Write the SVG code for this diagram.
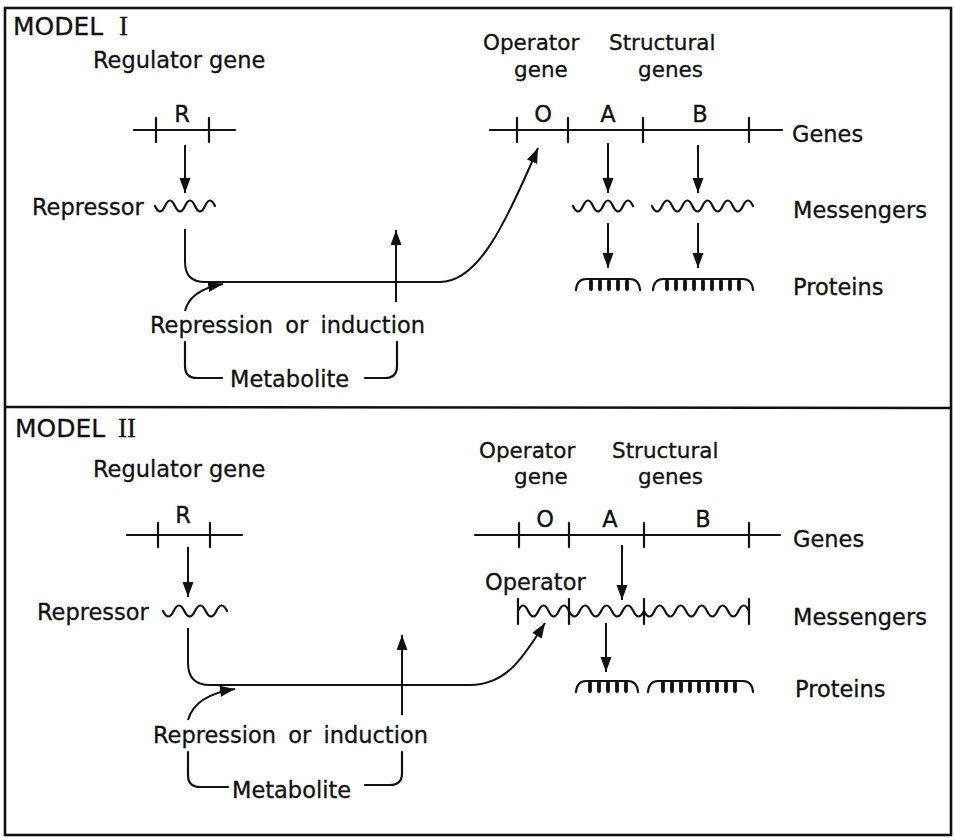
<svg xmlns="http://www.w3.org/2000/svg" width="954" height="840" viewBox="0 0 954 840">
<style>
text{font-family:"DejaVu Sans","Liberation Sans",sans-serif;font-size:22.5px;fill:#111;stroke:#111;stroke-width:0.3}
.title{font-size:25px}
.hd{font-size:21.5px}
.rn{font-family:"Liberation Serif",serif;font-size:27px}
.mid{text-anchor:middle}
.ln{fill:none;stroke:#111;stroke-width:2.2;stroke-linecap:round;stroke-linejoin:round}
.wave{fill:none;stroke:#111;stroke-width:2.2;stroke-linecap:round}
.comb{fill:none;stroke:#111;stroke-width:3.8;stroke-linecap:round}
.arr{fill:none;stroke:#111;stroke-width:2;marker-end:url(#ah)}
</style>
<defs>
<marker id="ah" markerUnits="userSpaceOnUse" markerWidth="16" markerHeight="12" refX="15" refY="5.5" orient="auto">
<path d="M0,0 L15,5.5 L0,11 z" fill="#111"/>
</marker>
</defs>
<rect x="0" y="0" width="954" height="840" fill="#fff"/>
<g id="frame">
<rect x="5" y="8" width="946" height="827" fill="none" stroke="#111" stroke-width="2.6"/>
<line x1="5" y1="407" x2="951" y2="408" stroke="#111" stroke-width="2.6"/>
</g>

<!-- MODEL I -->
<g id="m1-title"><text class="title" x="13" y="35">MODEL <tspan class="rn" x="119">I</tspan></text></g>
<g id="m1-regulator">
<text x="93" y="68">Regulator gene</text>
<text class="mid" x="182" y="122">R</text>
<path class="ln" d="M134,130 L235,130 M156,118 L156,142 M209,118 L209,142"/>
</g>
<g id="m1-repressor">
<text x="32" y="215">Repressor</text>
<path class="wave" d="M155,206 q5,11 10,0 t10,0 t10,0 t10,0 t10,0 t10,0"/>
</g>
<g id="m1-operon">
<text class="hd" x="483" y="50">Operator</text>
<text class="hd" x="514" y="77">gene</text>
<text class="hd" x="609" y="50">Structural</text>
<text class="hd" x="638" y="77">genes</text>
<text class="mid" x="543" y="122">O</text>
<text class="mid" x="608" y="122">A</text>
<text class="mid" x="700" y="122">B</text>
<path class="ln" d="M490,130 L782,130 M517,118 L517,142 M568,118 L568,142 M643,118 L643,142 M749,118 L749,142"/>
<text x="792" y="142">Genes</text>
</g>
<g id="m1-messengers">
<path class="wave" d="M573,206 q5,11 10,0 t10,0 t10,0 t10,0 t10,0 t10,0"/>
<path class="wave" d="M652,206 q5.05,11 10.1,0 t10.1,0 t10.1,0 t10.1,0 t10.1,0 t10.1,0 t10.1,0 t10.1,0 t10.1,0 t10.1,0"/>
<text x="793" y="218">Messengers</text>
</g>
<g id="m1-proteins">
<path class="ln" d="M576,290 Q577,279 586,279 L630,279 Q639,279 640,290"/>
<path class="comb" d="M591,281 v8 M600,281 v8 M609,281 v8 M618,281 v8 M627,281 v8"/>
<path class="ln" d="M653,290 Q654,279 663,279 L743,279 Q752,279 753,290"/>
<path class="comb" d="M667,281 v8 M676,281 v8 M685,281 v8 M694,281 v8 M703,281 v8 M712,281 v8 M721,281 v8 M730,281 v8 M739,281 v8"/>
<text x="793" y="295">Proteins</text>
</g>
<g id="m1-metabolite">
<text x="150" y="333" word-spacing="5">Repression or induction</text>
<text x="230" y="387">Metabolite</text>
</g>
<g id="m1-connectors">
<path class="arr" d="M185,145 L185,193"/>
<path class="arr" d="M608,143 L608,193"/>
<path class="arr" d="M698,145 L698,193"/>
<path class="arr" d="M608,223 L608,268"/>
<path class="arr" d="M698,223 L698,268"/>
<path class="arr" d="M185,229 L185,262 Q185,282 205,282 L440,282 C478,282 505,225 538,148"/>
<path class="arr" d="M396,302 L396,230"/>
<path class="arr" d="M185,311 Q190,290 223,284"/>
<path class="ln" d="M185,342 L185,366 Q185,378 197,378 L222,378"/>
<path class="ln" d="M365,378 L385,378 Q397,378 397,366 L397,342"/>
</g>

<!-- MODEL II -->
<g id="m2-title"><text class="title" x="15" y="437">MODEL <tspan class="rn" x="118">II</tspan></text></g>
<g id="m2-regulator">
<text x="93" y="477">Regulator gene</text>
<text class="mid" x="183" y="523">R</text>
<path class="ln" d="M127,535 L242,535 M158,523 L158,547 M210,523 L210,547"/>
</g>
<g id="m2-repressor">
<text x="37" y="620">Repressor</text>
<path class="wave" d="M163,611 q5.33,11 10.67,0 t10.67,0 t10.67,0 t10.67,0 t10.67,0 t10.67,0"/>
</g>
<g id="m2-operon">
<text class="hd" x="479" y="458">Operator</text>
<text class="hd" x="514" y="484">gene</text>
<text class="hd" x="612" y="458">Structural</text>
<text class="hd" x="638" y="484">genes</text>
<text class="mid" x="545" y="527">O</text>
<text class="mid" x="610" y="527">A</text>
<text class="mid" x="703" y="527">B</text>
<path class="ln" d="M475,535 L780,535 M519,523 L519,547 M569,523 L569,547 M644,523 L644,547 M749,523 L749,547"/>
<text x="793" y="547">Genes</text>
</g>
<g id="m2-messengers">
<text x="485" y="590">Operator</text>
<path class="ln" d="M518,599 L518,624 M569,599 L569,624 M644,599 L644,624 M749,599 L749,624"/>
<path class="wave" d="M518,611 q5.1,-11 10.2,0 t10.2,0 t10.2,0 t10.2,0 t10.2,0"/>
<path class="wave" d="M569,611 q5.357,11 10.714,0 t10.714,0 t10.714,0 t10.714,0 t10.714,0 t10.714,0 t10.714,0"/>
<path class="wave" d="M644,611 q5.25,11 10.5,0 t10.5,0 t10.5,0 t10.5,0 t10.5,0 t10.5,0 t10.5,0 t10.5,0 t10.5,0 t10.5,0"/>
<text x="793" y="625">Messengers</text>
</g>
<g id="m2-proteins">
<path class="ln" d="M576,692 Q577,681 586,681 L628,681 Q637,681 638,692"/>
<path class="comb" d="M590,683 v8 M599,683 v8 M608,683 v8 M617,683 v8 M626,683 v8"/>
<path class="ln" d="M648,692 Q649,681 658,681 L743,681 Q752,681 753,692"/>
<path class="comb" d="M663,683 v8 M672,683 v8 M681,683 v8 M690,683 v8 M699,683 v8 M708,683 v8 M717,683 v8 M726,683 v8 M735,683 v8"/>
<text x="795" y="697">Proteins</text>
</g>
<g id="m2-metabolite">
<text x="153" y="743" word-spacing="5">Repression or induction</text>
<text x="232" y="798">Metabolite</text>
</g>
<g id="m2-connectors">
<path class="arr" d="M188,547 L188,597"/>
<path class="arr" d="M622,545 L622,600"/>
<path class="arr" d="M606,623 L606,672"/>
<path class="arr" d="M188,628 L188,663 Q188,685 210,685 L470,685 C505,685 522,660 545,623"/>
<path class="arr" d="M402,715 L402,635"/>
<path class="arr" d="M188,720 Q195,695 235,689"/>
<path class="ln" d="M188,752 L188,775 Q188,787 200,787 L228,787"/>
<path class="ln" d="M365,785 L390,785 Q402,785 402,773 L402,752"/>
</g>
</svg>
